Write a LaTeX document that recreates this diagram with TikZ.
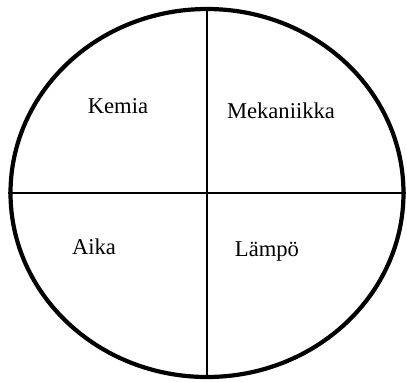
\documentclass[tikz,border=0pt]{standalone}
\usepackage{fontspec}
\setmainfont{Liberation Serif}
\usetikzlibrary{shapes.geometric}

\tikzset{
  field/.style={font=\fontsize{22.6}{26}\selectfont,anchor=base,inner sep=0pt},
  divider/.style={line width=1.5pt}
}

\begin{document}
\begin{tikzpicture}[x=1pt,y=-1pt]
    \useasboundingbox (0,0) rectangle (407,381);
    % the wheel and its two dividers
    \node[ellipse,draw,line width=4.2pt,minimum width=393pt,minimum height=368pt,inner sep=0pt] (wheel) at (207,193) {};
    \draw[divider] (wheel.north) -- (wheel.south);
    \draw[divider] (wheel.west) -- (wheel.east);
    % quarter labels
    \node[field] (kemia) at (118,113) {Kemia};
    \node[field] (mekaniikka) at (281,118) {Mekaniikka};
    \node[field] (aika) at (94,254) {Aika};
    \node[field] (lampo) at (267,256) {Lämpö};
\end{tikzpicture}
\end{document}
